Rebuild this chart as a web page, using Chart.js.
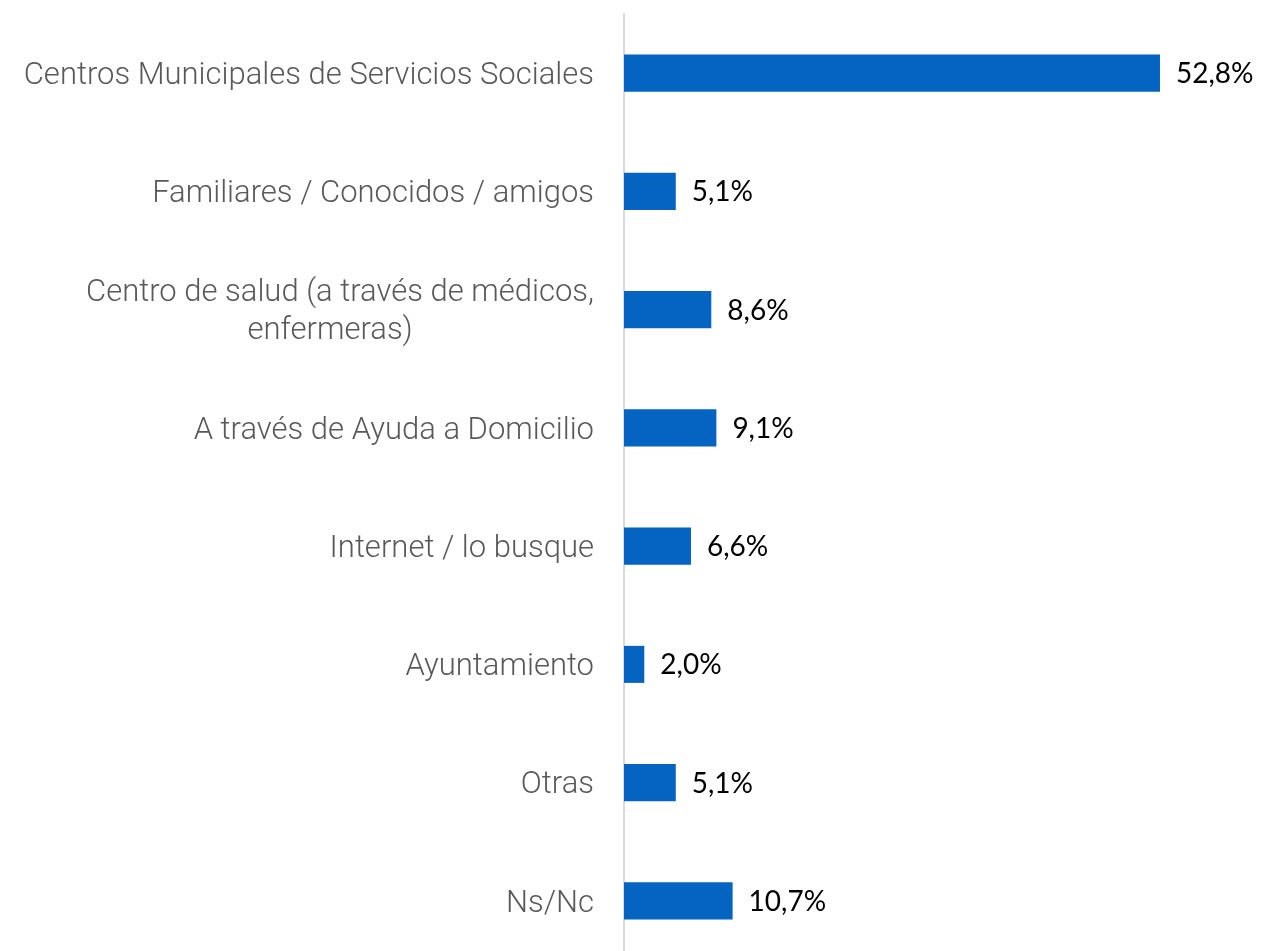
<!DOCTYPE html>
<html>
<head>
<meta charset="utf-8">
<script src="https://cdn.jsdelivr.net/npm/chart.js@4/dist/chart.umd.min.js"></script>
<style>
  html, body { margin: 0; padding: 0; background: #fff; overflow: hidden; }
  canvas { display: block; }
</style>
</head>
<body>
<canvas id="myChart" width="1262" height="960"></canvas>
<script>
// Categorías (la tercera en dos líneas, centrada con espacios)
const categorias = [
    'Centros Municipales de Servicios Sociales',
    'Familiares / Conocidos / amigos',
    ['Centro de salud (a través de médicos,', 'enfermeras)' + ' '.repeat(24)],
    'A través de Ayuda a Domicilio',
    'Internet / lo busque',
    'Ayuntamiento',
    'Otras',
    'Ns/Nc'
];
const valores = [52.8, 5.1, 8.6, 9.1, 6.6, 2.0, 5.1, 10.7];
const etiquetas = ['52,8%', '5,1%', '8,6%', '9,1%', '6,6%', '2,0%', '5,1%', '10,7%'];

// Plugin simple para pintar el valor al final de cada barra
const etiquetaPlugin = {
    id: 'etiquetaBarras',
    afterDatasetsDraw(chart) {
        const ctx = chart.ctx;
        const meta = chart.getDatasetMeta(0);
        ctx.save();
        ctx.font = '28px Lato';
        ctx.fillStyle = '#000000';
        ctx.textAlign = 'left';
        ctx.textBaseline = 'middle';
        meta.data.forEach(function (bar, i) {
            ctx.fillText(etiquetas[i], bar.x + 16, bar.y + 1);
        });
        ctx.restore();
    }
};

const ctx = document.getElementById('myChart').getContext('2d');
const myChart = new Chart(ctx, {
    type: 'bar',
    data: {
        labels: categorias,
        datasets: [{
            data: valores,
            backgroundColor: '#0563C1',
            borderWidth: 0,
            categoryPercentage: 1,
            barPercentage: 0.313
        }]
    },
    options: {
        indexAxis: 'y',
        responsive: false,
        animation: false,
        layout: { padding: { top: 14, right: 0, bottom: 0, left: 0 } },
        plugins: {
            legend: { display: false },
            tooltip: { enabled: false }
        },
        scales: {
            x: {
                display: false,
                min: 0,
                max: 62.85
            },
            y: {
                afterFit: function (scale) {
                    scale.width = 624;
                    // sin margen extra arriba/abajo por las etiquetas
                    scale.paddingTop = 0;
                    scale.paddingBottom = 0;
                },
                grid: { display: false, drawTicks: false },
                border: { display: true, color: '#d9d9d9', width: 2 },
                ticks: {
                    color: '#595959',
                    padding: 30,
                    labelOffset: 3,
                    font: { family: 'Roboto', weight: '300', size: 31, lineHeight: 1.23 }
                }
            }
        }
    },
    plugins: [etiquetaPlugin]
});
</script>
</body>
</html>
